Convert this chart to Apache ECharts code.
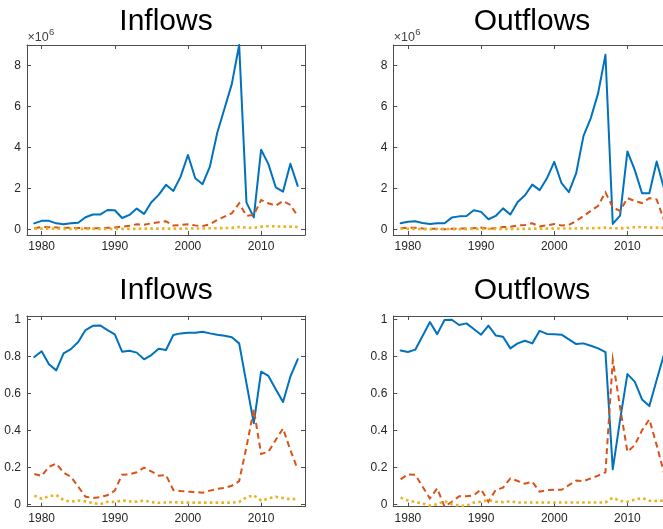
<!DOCTYPE html>
<html>
<head>
<meta charset="utf-8">
<script src="https://cdn.jsdelivr.net/npm/echarts@6/dist/echarts.min.js"></script>
<style>
  html, body { margin: 0; padding: 0; background: #fff; overflow: hidden; }
  /* the right-hand panels run slightly past the window edge */
  #chart { width: 680px; height: 529px; }
</style>
</head>
<body>
<div id="chart"></div>
<script>
// Years on the horizontal axis
const years = [1979, 1980, 1981, 1982, 1983, 1984, 1985, 1986, 1987, 1988,
               1989, 1990, 1991, 1992, 1993, 1994, 1995, 1996, 1997, 1998,
               1999, 2000, 2001, 2002, 2003, 2004, 2005, 2006, 2007, 2008,
               2009, 2010, 2011, 2012, 2013, 2014, 2015];

// Flow levels, in millions (axis shows x10^6)
const inflowSolid  = [0.29, 0.41, 0.41, 0.29, 0.24, 0.29, 0.32, 0.59, 0.72, 0.72,
                      0.94, 0.93, 0.55, 0.70, 1.01, 0.75, 1.32, 1.68, 2.17, 1.87,
                      2.57, 3.63, 2.49, 2.20, 3.06, 4.70, 5.90, 7.10, 9.00, 1.30,
                      0.58, 3.88, 3.18, 2.05, 1.84, 3.20, 2.12];
const inflowDashed = [0.05, 0.11, 0.10, 0.09, 0.07, 0.07, 0.06, 0.05, 0.05, 0.05,
                      0.07, 0.09, 0.13, 0.17, 0.24, 0.22, 0.29, 0.34, 0.39, 0.18,
                      0.21, 0.24, 0.19, 0.16, 0.24, 0.46, 0.62, 0.78, 1.27, 0.66,
                      0.70, 1.43, 1.27, 1.15, 1.38, 1.19, 0.64];
const inflowDotted = [0.03, 0.03, 0.03, 0.03, 0.02, 0.02, 0.02, 0.02, 0.02, 0.01,
                      0.02, 0.02, 0.02, 0.02, 0.02, 0.03, 0.03, 0.03, 0.03, 0.03,
                      0.03, 0.04, 0.04, 0.04, 0.05, 0.05, 0.06, 0.07, 0.11, 0.08,
                      0.07, 0.13, 0.15, 0.14, 0.13, 0.13, 0.11];

const outflowSolid  = [0.29, 0.37, 0.39, 0.31, 0.26, 0.29, 0.29, 0.57, 0.63, 0.65,
                       0.93, 0.85, 0.49, 0.65, 1.02, 0.72, 1.33, 1.66, 2.18, 1.91,
                       2.49, 3.29, 2.25, 1.81, 2.74, 4.56, 5.43, 6.65, 8.52, 0.26,
                       0.67, 3.80, 2.90, 1.76, 1.76, 3.31, 2.00];
const outflowDashed = [0.05, 0.08, 0.07, 0.04, 0.02, 0.03, 0.00, 0.02, 0.03, 0.04,
                       0.05, 0.08, 0.02, 0.06, 0.11, 0.12, 0.19, 0.21, 0.29, 0.14,
                       0.19, 0.26, 0.19, 0.21, 0.41, 0.65, 0.90, 1.15, 1.80, 1.07,
                       0.90, 1.52, 1.38, 1.28, 1.52, 1.45, 0.45];
const outflowDotted = [0.03, 0.02, 0.02, 0.01, 0.00, 0.01, 0.02, 0.01, 0.00, 0.00,
                       0.02, 0.02, 0.02, 0.02, 0.02, 0.02, 0.02, 0.02, 0.03, 0.03,
                       0.03, 0.04, 0.04, 0.04, 0.04, 0.05, 0.05, 0.06, 0.08, 0.05,
                       0.04, 0.07, 0.10, 0.11, 0.08, 0.08, 0.07];

// Shares of the total
const inflowShareSolid  = [0.796, 0.827, 0.757, 0.724, 0.816, 0.839, 0.877, 0.942, 0.965, 0.967,
                           0.942, 0.919, 0.825, 0.830, 0.820, 0.784, 0.807, 0.841, 0.834, 0.915,
                           0.924, 0.928, 0.928, 0.933, 0.924, 0.917, 0.911, 0.903, 0.870, 0.654,
                           0.438, 0.717, 0.694, 0.622, 0.553, 0.690, 0.784];
const inflowShareDashed = [0.164, 0.153, 0.203, 0.220, 0.171, 0.149, 0.095, 0.041, 0.034, 0.039,
                           0.049, 0.074, 0.160, 0.162, 0.173, 0.198, 0.178, 0.155, 0.158, 0.077,
                           0.072, 0.068, 0.066, 0.063, 0.074, 0.083, 0.088, 0.100, 0.125, 0.310,
                           0.513, 0.272, 0.284, 0.348, 0.410, 0.293, 0.189];
const inflowShareDotted = [0.047, 0.030, 0.043, 0.050, 0.023, 0.014, 0.020, 0.016, 0.007, 0.000,
                           0.014, 0.012, 0.021, 0.016, 0.014, 0.020, 0.012, 0.008, 0.010, 0.012,
                           0.009, 0.009, 0.009, 0.009, 0.009, 0.009, 0.009, 0.009, 0.013, 0.038,
                           0.049, 0.020, 0.032, 0.040, 0.034, 0.027, 0.030];

const outflowShareSolid  = [0.832, 0.823, 0.836, 0.910, 0.985, 0.920, 0.996, 0.998, 0.969, 0.978,
                            0.948, 0.917, 0.966, 0.913, 0.906, 0.843, 0.870, 0.884, 0.870, 0.938,
                            0.921, 0.919, 0.917, 0.892, 0.866, 0.870, 0.857, 0.843, 0.823, 0.189,
                            0.456, 0.704, 0.663, 0.567, 0.531, 0.672, 0.810];
const outflowShareDashed = [0.135, 0.162, 0.160, 0.095, 0.032, 0.086, -0.013, 0.014, 0.043, 0.043,
                            0.049, 0.081, 0.014, 0.077, 0.090, 0.140, 0.126, 0.111, 0.122, 0.068,
                            0.077, 0.078, 0.078, 0.104, 0.128, 0.125, 0.140, 0.155, 0.173, 0.780,
                            0.524, 0.284, 0.320, 0.400, 0.459, 0.320, 0.170];
const outflowShareDotted = [0.036, 0.020, 0.012, 0.005, -0.007, 0.000, 0.018, 0.000, -0.008, -0.008,
                            0.009, 0.014, 0.023, 0.014, 0.012, 0.016, 0.010, 0.010, 0.010, 0.010,
                            0.010, 0.010, 0.010, 0.010, 0.010, 0.010, 0.010, 0.010, 0.010, 0.036,
                            0.018, 0.014, 0.025, 0.034, 0.020, 0.018, 0.020];

// Tick labels
const yearTicks = [1980, 1990, 2000, 2010];
const levelTicks = [0, 2, 4, 6, 8];
const shareTicks = [0, 0.2, 0.4, 0.6, 0.8, 1];
const panelTitles = ['Inflows', 'Outflows', 'Inflows', 'Outflows'];

const FONT = '"Liberation Sans", Arial, Helvetica, sans-serif';
const AXIS = '#4d4d4d';
const LABEL = '#262626';
const COLORS = ['#0072BD', '#D95319', '#EDB120'];

const grids = [
  { left: 27,    top: 45,  width: 278, height: 190 },
  { left: 393.3, top: 45,  width: 278, height: 190 },
  { left: 27,    top: 316, width: 278, height: 190.7 },
  { left: 393.3, top: 316, width: 278, height: 190.7 }
];
const yRanges = [[-0.28, 9.0], [-0.28, 9.0], [-0.013, 1.018], [-0.013, 1.018]];
const yTickSets = [levelTicks, levelTicks, shareTicks, shareTicks];
const panelData = [
  [inflowSolid, inflowDashed, inflowDotted],
  [outflowSolid, outflowDashed, outflowDotted],
  [inflowShareSolid, inflowShareDashed, inflowShareDotted],
  [outflowShareSolid, outflowShareDashed, outflowShareDotted]
];

function pairs(values) {
  return years.map((y, i) => [y, values[i]]);
}

function makeAxis(gridIndex, position, range, ticks, withLabels) {
  return {
    type: 'value',
    gridIndex: gridIndex,
    position: position,
    min: range[0],
    max: range[1],
    axisLine: { show: true, onZero: false, lineStyle: { color: AXIS, width: 1 } },
    axisTick: { show: true, inside: true, length: 4, customValues: ticks,
                lineStyle: { color: AXIS, width: 1 } },
    axisLabel: {
      show: withLabels, customValues: ticks, color: LABEL, fontSize: 12,
      fontFamily: FONT, margin: 6,
      formatter: v => String(+(+v).toFixed(1))
    },
    splitLine: { show: false }
  };
}

const xAxis = [], yAxis = [], series = [];
const lineStyles = [
  { width: 2, type: 'solid', cap: 'round', join: 'round' },
  { width: 2, type: [6, 4], cap: 'butt', join: 'miter' },
  { width: 2.6, type: [2.6, 3.2], cap: 'butt', join: 'miter' }
];
grids.forEach((g, gi) => {
  xAxis.push(makeAxis(gi, 'bottom', [1978, 2016], yearTicks, true));
  xAxis.push(makeAxis(gi, 'top', [1978, 2016], yearTicks, false));
  yAxis.push(makeAxis(gi, 'left', yRanges[gi], yTickSets[gi], true));
  yAxis.push(makeAxis(gi, 'right', yRanges[gi], yTickSets[gi], false));
  panelData[gi].forEach((vals, si) => {
    series.push({
      type: 'line',
      xAxisIndex: gi * 2,
      yAxisIndex: gi * 2,
      data: pairs(vals),
      showSymbol: false,
      symbol: 'none',
      clip: true,
      lineStyle: Object.assign({ color: COLORS[si] }, lineStyles[si]),
      z: 2 + si
    });
  });
});

const graphic = [];
const titleCenters = [166, 532, 166, 532];
const titleMids = [21.4, 21.4, 291, 291];
panelTitles.forEach((t, i) => {
  graphic.push({
    type: 'text', x: titleCenters[i], y: titleMids[i],
    style: { text: t, fill: '#000', font: '30px ' + FONT, align: 'center', verticalAlign: 'middle' }
  });
});
// exponent markers above the level panels
[27, 393.3].forEach(left => {
  graphic.push({
    type: 'text', x: left + 0.5, y: 37.5,
    style: { text: '\u00d710', fill: '#404040', font: '12.5px ' + FONT, align: 'left', verticalAlign: 'middle' }
  });
  graphic.push({
    type: 'text', x: left + 22, y: 32.5,
    style: { text: '6', fill: '#404040', font: '9.5px ' + FONT, align: 'left', verticalAlign: 'middle' }
  });
});

const chart = echarts.init(document.getElementById('chart'), null, { renderer: 'canvas' });
chart.setOption({
  animation: false,
  backgroundColor: '#fff',
  grid: grids,
  xAxis: xAxis,
  yAxis: yAxis,
  series: series,
  graphic: graphic
});
</script>
</body>
</html>
